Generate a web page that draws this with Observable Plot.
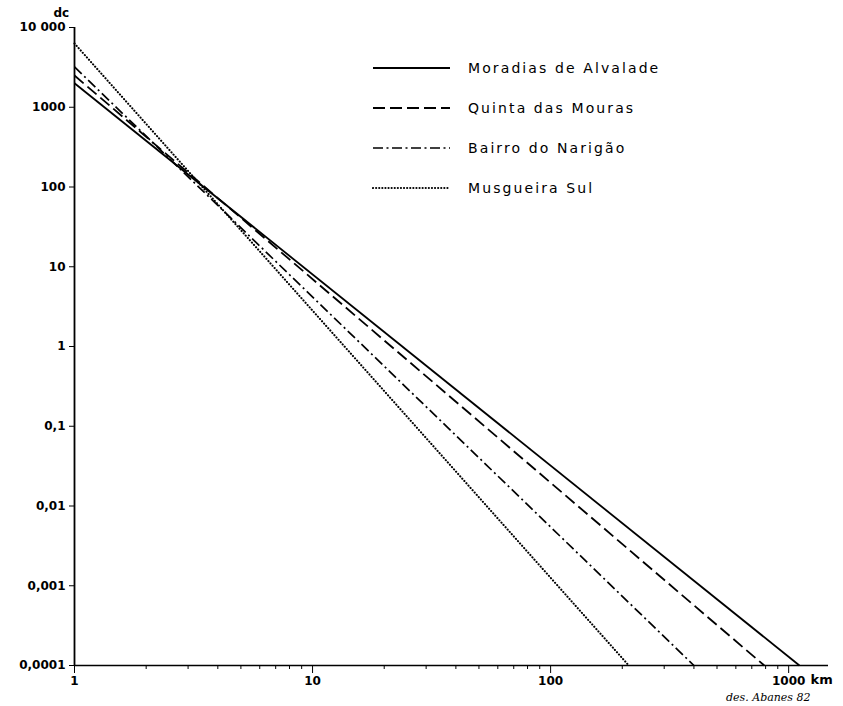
<!DOCTYPE html>
<html>
<head>
<meta charset="utf-8">
<script src="https://cdn.jsdelivr.net/npm/d3@7"></script>
<script src="https://cdn.jsdelivr.net/npm/@observablehq/plot@0.6"></script>
<style>
  html, body { margin: 0; padding: 0; background: #fff; }
  #wrap { position: relative; width: 843px; height: 706px; font-family: "DejaVu Sans", sans-serif; color: #000; }
  #legend { position: absolute; left: 372px; top: 48px; }
  .row { display: flex; align-items: center; height: 40px; }
  .row svg { width: 80px; height: 10px; margin-right: 16px; }
  .row span { font-size: 14px; letter-spacing: 2.1px; }
</style>
</head>
<body>
<div id="wrap"></div>
<script>
// Series names
const series = ["Moradias de Alvalade", "Quinta das Mouras", "Bairro do Narigão", "Musgueira Sul"];
// Value (dc) at 1 km for each series
const dcAt1km = [2000, 2500, 3200, 6300];
// Distance (km) where each series reaches 0,0001 dc
const kmAtMin = [1110, 790, 400, 213];
const dcMin = 0.0001;
// Axis ticks and labels
const yTicks = [10000, 1000, 100, 10, 1, 0.1, 0.01, 0.001, 0.0001];
const yLabels = ["10 000", "1000", "100", "10", "1", "0,1", "0,01", "0,001", "0,0001"];
const xTicks = [1, 10, 100, 1000];
const xLabels = ["1", "10", "100", "1000"];
const xMinor = [2,3,4,5,6,7,8,9,20,30,40,50,60,70,80,90,200,300,400,500,600,700,800,900];

const dashes = ["none", "12,5", "10,3.5,2,3.5", "0.1,3"];
const widths = [1.8, 1.8, 1.7, 2.1];
const caps = ["butt", "butt", "butt", "round"];

const rows = [];
series.forEach((s, i) => {
  rows.push({series: s, km: 1, dc: dcAt1km[i]});
  rows.push({series: s, km: kmAtMin[i], dc: dcMin});
});

const lineMarks = series.map((s, i) => Plot.line(rows.filter(r => r.series === s), {
  x: "km", y: "dc", stroke: "#000", strokeWidth: widths[i], strokeDasharray: dashes[i], strokeLinecap: caps[i]
}));

const chart = Plot.plot({
  width: 843,
  height: 706,
  marginLeft: 74,
  marginRight: 15,
  marginTop: 27,
  marginBottom: 41,
  style: {fontFamily: "DejaVu Sans, sans-serif", fontSize: "12px", color: "#000", background: "#fff"},
  x: {type: "log", domain: [1, 1470]},
  y: {type: "log", domain: [0.0001, 10000]},
  marks: [
    Plot.ruleY([dcMin], {stroke: "#000", strokeWidth: 1.6}),
    Plot.ruleX([1], {y1: dcMin, y2: 10000, stroke: "#000", strokeWidth: 1.8}),
    Plot.axisY({ticks: yTicks, tickFormat: d => yLabels[yTicks.indexOf(d)], tickSize: 5, tickPadding: 4, label: null, fontWeight: "bold"}),
    Plot.axisX({ticks: xTicks, tickFormat: d => xLabels[xTicks.indexOf(d)], tickSize: 8, tickPadding: 3, label: null, fontWeight: "bold"}),
    Plot.axisX({ticks: xMinor, tickFormat: () => "", tickSize: 4, label: null}),
    ...lineMarks,
    Plot.text(["dc"], {frameAnchor: "top-left", dx: -21, dy: -19, fontSize: 12, fontWeight: "bold"}),
    Plot.text(["km"], {frameAnchor: "bottom-right", dx: -18, dy: 18, textAnchor: "start", fontSize: 13, fontWeight: "bold", letterSpacing: "1px"}),
    Plot.text(["des. Abanes 82"], {frameAnchor: "bottom-right", dx: -18, dy: 35, textAnchor: "end", fontSize: 11, fontStyle: "italic", fontFamily: "DejaVu Serif, serif"})
  ]
});

const wrap = document.getElementById("wrap");
wrap.appendChild(chart);

const legend = document.createElement("div");
legend.id = "legend";
series.forEach((s, i) => {
  const row = document.createElement("div");
  row.className = "row";
  row.innerHTML = `<svg viewBox="0 0 80 10"><line x1="1" y1="5" x2="78" y2="5" stroke="#000" stroke-width="${widths[i]}" stroke-dasharray="${dashes[i]}" stroke-linecap="${caps[i]}"/></svg><span>${s}</span>`;
  legend.appendChild(row);
});
wrap.appendChild(legend);
</script>
</body>
</html>
